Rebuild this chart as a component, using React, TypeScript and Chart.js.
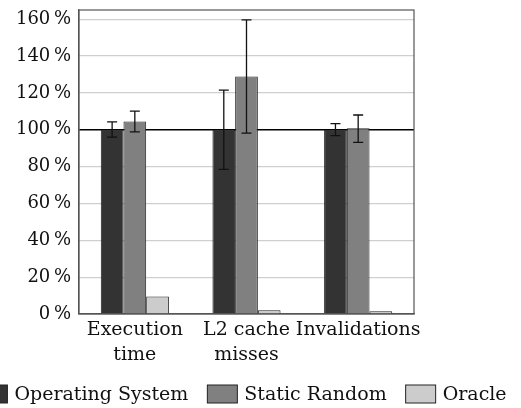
import React, { useEffect, useRef } from 'react';
import { Chart, registerables } from 'chart.js';

Chart.register(...registerables);

const categories: string[][] = [['Execution', 'time'], ['L2 cache', 'misses'], ['Invalidations']];
const seriesNames = ['Operating System', 'Static Random', 'Oracle'];
const seriesColors = ['#333333', '#808080', '#cccccc'];
const osValues = [100, 100, 100];
const osErrLow = [96, 78.5, 96.8];
const osErrHigh = [104.3, 121.5, 103.3];
const srValues = [104.5, 128.9, 100.8];
const srErrLow = [98.9, 98.2, 93.2];
const srErrHigh = [110.1, 159.6, 108];
const oracleValues = [9.5, 2.1, 1.5];
const yTicks = [0, 20, 40, 60, 80, 100, 120, 140, 160];

const FONT = '"DejaVu Serif", serif';

const errorBars: { low: number[]; high: number[] }[] = [
  { low: osErrLow, high: osErrHigh },
  { low: srErrLow, high: srErrHigh },
];

const extrasPlugin = {
  id: 'extras',
  afterDatasetsDraw(chart: any) {
    const ctx = chart.ctx;
    const y = chart.scales.y;
    ctx.save();
    ctx.strokeStyle = '#111';
    ctx.lineWidth = 1.3;
    errorBars.forEach((eb, di) => {
      const meta = chart.getDatasetMeta(di);
      meta.data.forEach((bar: any, j: number) => {
        const x = bar.x;
        const yl = y.getPixelForValue(eb.low[j]);
        const yh = y.getPixelForValue(eb.high[j]);
        ctx.beginPath();
        ctx.moveTo(x, yl);
        ctx.lineTo(x, yh);
        ctx.moveTo(x - 5, yl);
        ctx.lineTo(x + 5, yl);
        ctx.moveTo(x - 5, yh);
        ctx.lineTo(x + 5, yh);
        ctx.stroke();
      });
    });
    const a = chart.chartArea;
    ctx.strokeStyle = '#555';
    ctx.lineWidth = 1.2;
    ctx.strokeRect(a.left, a.top, a.right - a.left, a.bottom - a.top);
    ctx.restore();
  },
  afterDraw(chart: any) {
    const ctx = chart.ctx;
    ctx.save();
    ctx.font = '19px ' + FONT;
    const boxW = 30;
    const boxH = 18;
    const gapText = 7;
    const gapItem = 19;
    const widths = seriesNames.map((n) => ctx.measureText(n).width);
    const total = widths.reduce((s, w) => s + boxW + gapText + w, 0) + gapItem * (seriesNames.length - 1);
    let x = 242 - total / 2;
    const cy = 394;
    seriesNames.forEach((n, i) => {
      ctx.fillStyle = seriesColors[i];
      ctx.fillRect(x, cy - boxH / 2, boxW, boxH);
      ctx.strokeStyle = '#222';
      ctx.lineWidth = 1;
      ctx.strokeRect(x, cy - boxH / 2, boxW, boxH);
      x += boxW + gapText;
      ctx.fillStyle = '#111';
      ctx.textBaseline = 'middle';
      ctx.textAlign = 'left';
      ctx.fillText(n, x, cy + 1);
      x += widths[i] + gapItem;
    });
    ctx.restore();
  },
};

export default function App() {
  const ref = useRef<HTMLCanvasElement>(null);
  useEffect(() => {
    if (!ref.current) return;
    const mk = (label: string, data: number[], color: string) => ({
      label,
      data,
      backgroundColor: color,
      borderColor: '#222',
      borderWidth: 1,
      barPercentage: 1,
      categoryPercentage: 0.61,
    });
    const chart = new Chart(ref.current, {
      type: 'bar',
      data: {
        labels: categories as any,
        datasets: [
          mk(seriesNames[0], osValues, seriesColors[0]),
          mk(seriesNames[1], srValues, seriesColors[1]),
          mk(seriesNames[2], oracleValues, seriesColors[2]),
        ],
      },
      options: {
        animation: false,
        responsive: true,
        maintainAspectRatio: false,
        layout: { padding: { top: 10, right: 107, left: 0, bottom: 0 } },
        plugins: { legend: { display: false }, tooltip: { enabled: false } },
        scales: {
          x: {
            grid: { display: false },
            border: { display: true, color: '#555', width: 1.2 },
            ticks: { color: '#111', font: { family: FONT, size: 19, lineHeight: 1.3 }, padding: -4, maxRotation: 0, autoSkip: false },
            afterFit: (s: any) => { s.height = 94; s.paddingLeft = 0; s.paddingRight = 0; },
          },
          y: {
            min: 0,
            max: 165,
            afterBuildTicks: (s: any) => { s.ticks = yTicks.map((v) => ({ value: v })); },
            afterFit: (s: any) => { s.width = 79; s.paddingTop = 0; s.paddingBottom = 0; },
            grid: {
              drawTicks: false,
              color: (c: any) => (c.tick && c.tick.value === 100 ? '#000' : '#cfcfcf'),
              lineWidth: (c: any) => (c.tick && c.tick.value === 100 ? 1.6 : 1.2),
            },
            border: { display: true, color: '#555', width: 1.2 },
            ticks: {
              color: '#111',
              font: { family: FONT, size: 18 },
              padding: 8,
              callback: (v: any) => `${v}\u2009%`,
            },
          },
        },
      },
      plugins: [extrasPlugin],
    });
    return () => chart.destroy();
  }, []);
  return (
    <div style={{ position: 'fixed', left: 0, top: 0, width: 521, height: 408, background: '#fff' }}>
      <canvas ref={ref} />
    </div>
  );
}
